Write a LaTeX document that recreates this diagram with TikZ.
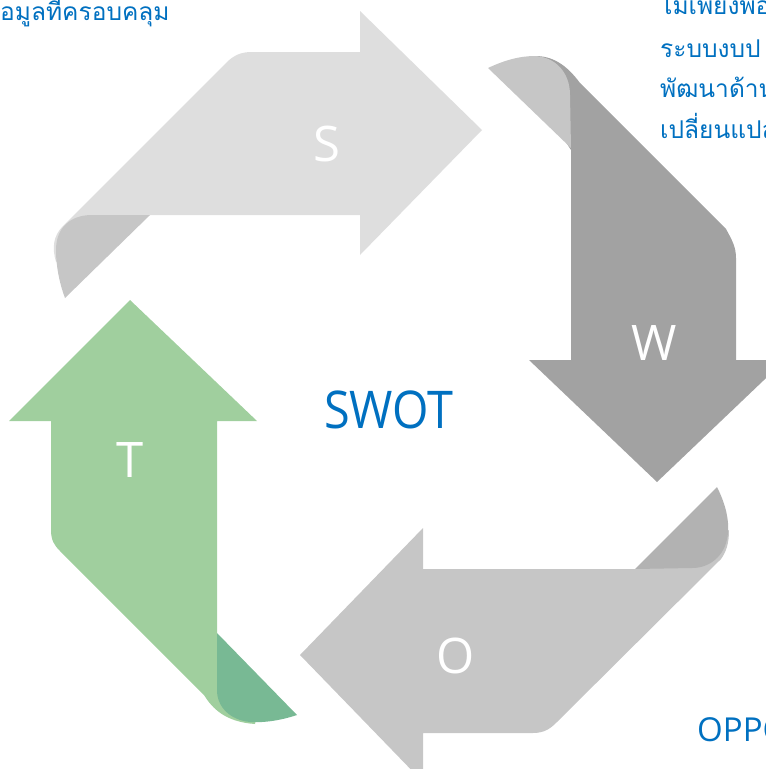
\documentclass[tikz,border=0pt]{standalone}
\usepackage{fontspec}
\newfontfamily\osans{Open Sans}
\newfontfamily\thaifont[Script=Thai]{Loma}
\definecolor{sMainC}{HTML}{DEDEDE}
\definecolor{sFoldC}{HTML}{C6C6C6}
\definecolor{wMainC}{HTML}{A2A2A2}
\definecolor{wFoldC}{HTML}{C6C6C6}
\definecolor{oMainC}{HTML}{C6C6C6}
\definecolor{oFoldC}{HTML}{B2B2B2}
\definecolor{tMainC}{HTML}{A0CF9E}
\definecolor{tFoldC}{HTML}{78B994}
\definecolor{blueC}{HTML}{0070C0}
\begin{document}
\begin{tikzpicture}[x=1pt,y=-1pt,
  letterlbl/.style={inner sep=0pt,text=white,font=\osans\fontsize{49}{49}\selectfont,anchor=base},
  thaitext/.style={inner sep=0pt,text=blueC,font=\thaifont\fontsize{24.5}{24.5}\selectfont,anchor=base west},
  bluetext/.style={inner sep=0pt,text=blueC,font=\osans\fontsize{33}{33}\selectfont}]
\useasboundingbox (0,0) rectangle (766,769);
\clip (0,0) rectangle (766,769);
% S arrow
\fill[sMainC] (252,52) -- (360,52) -- (360,11) -- (482,130) -- (360,255) -- (360,215) -- (150,215) -- (100,255) -- (56,262)
  .. controls (52,248) and (53,236) .. (63,226) -- (228,61) .. controls (235,55) and (241,52) .. (252,52) -- cycle;
\fill[sFoldC] (150,215) -- (65,298) .. controls (59,282) and (56,265) .. (56,250) .. controls (56,228) and (70,215) .. (92,215) -- cycle;
% W arrow
\fill[wMainC] (571,360) -- (529,360) -- (657,482) -- (785,360) -- (736,360) -- (736,258) .. controls (736,247) and (732,240) .. (726,229)
  -- (580,83) .. controls (566,64) and (552,56) .. (535,56) -- (545,110) -- (571,150) -- cycle;
\fill[wFoldC] (571,148) -- (488,68) .. controls (505,60) and (520,56) .. (535,56) .. controls (555,57) and (570,72) .. (570,95) -- cycle;
% O arrow
\fill[oMainC] (423,569) -- (423,528) -- (300,655) -- (423,782) -- (423,733) -- (533,733) .. controls (545,733) and (551,728) .. (557,722)
  -- (721,559) .. controls (726,552) and (729,544) .. (729,530) -- (690,550) -- (636,569) -- cycle;
\fill[oFoldC] (635,569) -- (717,487) .. controls (726,505) and (729,520) .. (728,532) .. controls (727,553) and (712,568) .. (692,568) -- cycle;
% T arrow
\fill[tMainC] (217,421) -- (257,421) -- (130,300) -- (9,421) -- (51,421) -- (51,530) .. controls (51,540) and (54,545) .. (60,551)
  -- (204,695) .. controls (212,708) and (225,722) .. (255,724) -- (260,700) -- (217,640) -- cycle;
\fill[tFoldC] (217,633) -- (297,715) .. controls (282,720) and (265,723) .. (250,722) .. controls (230,720) and (217,707) .. (217,690) -- cycle;
% labels
\node[letterlbl] (lblS) at (327,161) {S};
\node[letterlbl] (lblW) at (654,360) {W};
\node[letterlbl] (lblO) at (456,673) {O};
\node[letterlbl] (lblT) at (130,477) {T};
\node[bluetext,font=\osans\fontsize{52}{52}\selectfont,anchor=base,xscale=0.9] (swot) at (389,428) {SWOT};
\node[bluetext,anchor=base west] (oppo) at (697,741) {OPPO};
% Thai texts
\node[thaitext] (tl) at (0,20) {อมูลที่ครอบคลุม};
\node[thaitext] (tr1) at (660,14) {ไม่เพียงพอ};
\node[thaitext] (tr2) at (660,57) {ระบบงบป};
\node[thaitext] (tr3) at (660,97) {พัฒนาด้าน};
\node[thaitext] (tr4) at (660,138) {เปลี่ยนแปล};
\end{tikzpicture}
\end{document}
